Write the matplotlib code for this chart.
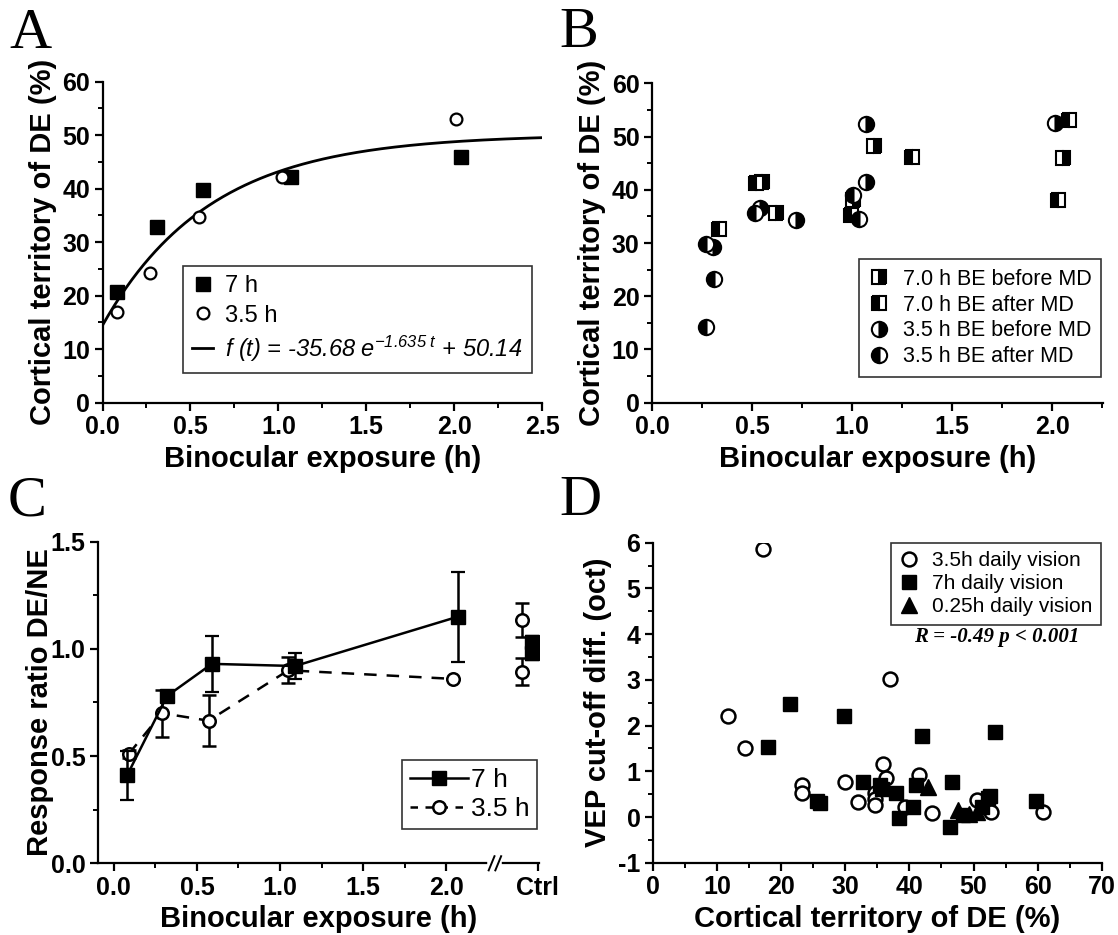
import matplotlib
matplotlib.use('Agg')
import matplotlib.pyplot as plt
import numpy as np
from matplotlib.ticker import MultipleLocator, FormatStrFormatter, FixedLocator
from matplotlib.lines import Line2D

# ---- panel A: cortical territory vs binocular exposure
a_x_7h = [0.08, 0.31, 0.57, 1.07, 2.04]
a_y_7h = [20.6, 32.9, 39.8, 42.1, 46.0]
a_x_35h = [0.08, 0.27, 0.55, 1.02, 2.01]
a_y_35h = [17.0, 24.2, 34.8, 42.2, 53.0]
fit_amp, fit_rate, fit_off = -35.68, 1.635, 50.14

# ---- panel B: before / after MD
b_x_70_before = [0.548, 0.62, 1.004, 1.107, 2.054]
b_y_70_before = [41.5, 35.6, 38.1, 48.2, 46.0]
b_x_70_after = [0.334, 0.518, 0.995, 1.30, 2.084, 2.03]
b_y_70_after = [32.7, 41.3, 35.3, 46.2, 53.1, 38.1]
b_x_35_before = [0.304, 0.539, 0.721, 1.071, 1.071, 2.013]
b_y_35_before = [29.3, 36.5, 34.4, 52.3, 41.5, 52.6]
b_x_35_after = [0.271, 0.307, 0.271, 0.512, 1.004, 1.036]
b_y_35_after = [29.9, 23.2, 14.3, 35.6, 39.0, 34.6]

# ---- panel C: response ratio DE/NE
c_x_7h = [0.08, 0.32, 0.59, 1.09, 2.07]
c_y_7h = [0.41, 0.78, 0.93, 0.92, 1.15]
c_e_7h = [0.115, 0.025, 0.13, 0.06, 0.21]
c_x_35h = [0.09, 0.29, 0.57, 1.05, 2.04]
c_y_35h = [0.51, 0.70, 0.665, 0.90, 0.86]
c_e_35h = [0.02, 0.11, 0.12, 0.06, 0.0]
ctrl_x_7h = [2.515, 2.515]
ctrl_y_7h = [1.03, 0.98]
ctrl_e_7h = [0.03, 0.03]
ctrl_x_35h = [2.455, 2.455]
ctrl_y_35h = [1.135, 0.894]
ctrl_e_35h = [0.08, 0.062]
c_ticks = [0.0, 0.5, 1.0, 1.5, 2.0, 2.55]
c_ticklabels = ['0.0', '0.5', '1.0', '1.5', '2.0', 'Ctrl']

# ---- panel D: VEP cut-off difference vs cortical territory
d_x_35h = [17.1, 11.7, 14.4, 36.9, 23.3, 23.3, 30.0, 32.0, 35.9, 36.3,
           34.6, 34.6, 34.6, 39.3, 41.5, 43.5, 50.5, 52.8, 60.8]
d_y_35h = [5.86, 2.22, 1.52, 3.02, 0.69, 0.52, 0.77, 0.33, 1.17, 0.85,
           0.52, 0.39, 0.26, 0.23, 0.92, 0.08, 0.37, 0.12, 0.12]
d_x_7h = [17.98, 21.4, 29.8, 42.0, 53.4, 25.6, 26.1, 32.8, 35.4, 35.8,
          37.9, 38.4, 40.6, 41.1, 46.6, 46.4, 48.4, 51.3, 52.2, 52.6, 59.8]
d_y_7h = [1.54, 2.47, 2.21, 1.77, 1.87, 0.36, 0.31, 0.77, 0.70, 0.62,
          0.52, -0.03, 0.23, 0.70, 0.77, -0.21, 0.05, 0.23, 0.42, 0.46, 0.34]
d_x_025h = [42.9, 47.5, 49.3, 50.6]
d_y_025h = [0.66, 0.16, 0.06, 0.12]

plt.rcParams['font.family'] = ['Liberation Sans', 'DejaVu Sans']
plt.rcParams['mathtext.fontset'] = 'custom'
plt.rcParams['mathtext.rm'] = 'Liberation Sans:italic'
plt.rcParams['mathtext.it'] = 'Liberation Sans:italic'
plt.rcParams['axes.linewidth'] = 1.6
plt.rcParams['axes.unicode_minus'] = False

fig = plt.figure(figsize=(11.18, 9.35), dpi=100)
axA = fig.add_axes([0.0917, 0.5693, 0.3932, 0.3433])
axB = fig.add_axes([0.5833, 0.5693, 0.4032, 0.3416])
axC = fig.add_axes([0.0878, 0.0767, 0.3945, 0.3440])
axD = fig.add_axes([0.5840, 0.0773, 0.4015, 0.3422])

TICK_FS = 18
LABEL_FS = 21


def style_axes(ax):
    for s in ['top', 'right']:
        ax.spines[s].set_visible(False)
    ax.tick_params(which='major', direction='out', length=6, width=1.6,
                   labelsize=TICK_FS, pad=3)
    ax.tick_params(which='minor', direction='out', length=3.5, width=1.4)
    for lab in ax.get_xticklabels() + ax.get_yticklabels():
        lab.set_fontweight('bold')


# ---- A
t = np.linspace(0, 2.5, 300)
axA.plot(t, fit_amp * np.exp(-fit_rate * t) + fit_off, color='black', lw=2,
         label='f (t) = -35.68 e$^{-1.635\\ t}$ + 50.14', zorder=2)
axA.plot(a_x_7h, a_y_7h, 's', color='black', ms=10, label='7 h', zorder=3)
axA.plot(a_x_35h, a_y_35h, 'o', mfc='white', mec='black', mew=1.6, ms=8.5,
         label='3.5 h', zorder=3)
axA.set_xlim(0, 2.5)
axA.set_ylim(0, 60)
axA.xaxis.set_major_locator(MultipleLocator(0.5))
axA.xaxis.set_minor_locator(MultipleLocator(0.25))
axA.yaxis.set_major_locator(MultipleLocator(10))
axA.yaxis.set_minor_locator(MultipleLocator(5))
axA.xaxis.set_major_formatter(FormatStrFormatter('%.1f'))
axA.set_xlabel('Binocular exposure (h)', fontsize=LABEL_FS, fontweight='bold')
axA.set_ylabel('Cortical territory of DE (%)', fontsize=LABEL_FS, fontweight='bold')
style_axes(axA)
h, l = axA.get_legend_handles_labels()
legA = axA.legend([h[1], h[2], h[0]], [l[1], l[2], l[0]], loc='lower right',
                  bbox_to_anchor=(0.977, 0.0916), borderaxespad=0, fontsize=17,
                  frameon=True, fancybox=False, edgecolor='black',
                  handlelength=0.9, handletextpad=0.5, labelspacing=0.3,
                  borderpad=0.4)
legA.get_frame().set_linewidth(1.2)
legA.get_texts()[2].set_style('italic')

# ---- B
mk = dict(ls='none', mec='black', mfc='black', markerfacecoloralt='white', mew=1.5)
axB.plot(b_x_70_before, b_y_70_before, 's', ms=10, fillstyle='right',
         label='7.0 h BE before MD', **mk)
axB.plot(b_x_70_after, b_y_70_after, 's', ms=10, fillstyle='left',
         label='7.0 h BE after MD', **mk)
axB.plot(b_x_35_before, b_y_35_before, 'o', ms=11, fillstyle='right',
         label='3.5 h BE before MD', **mk)
axB.plot(b_x_35_after, b_y_35_after, 'o', ms=11, fillstyle='left',
         label='3.5 h BE after MD', **mk)
axB.set_xlim(0, 2.254)
axB.set_ylim(0, 60)
axB.xaxis.set_major_locator(MultipleLocator(0.5))
axB.xaxis.set_minor_locator(MultipleLocator(0.25))
axB.yaxis.set_major_locator(MultipleLocator(10))
axB.yaxis.set_minor_locator(MultipleLocator(5))
axB.xaxis.set_major_formatter(FormatStrFormatter('%.1f'))
axB.set_xlabel('Binocular exposure (h)', fontsize=LABEL_FS, fontweight='bold')
axB.set_ylabel('Cortical territory of DE (%)', fontsize=LABEL_FS, fontweight='bold')
style_axes(axB)
legB = axB.legend(loc='lower right', bbox_to_anchor=(0.996, 0.081),
                  borderaxespad=0, fontsize=15.5, frameon=True, fancybox=False,
                  edgecolor='black', handlelength=1.0, handletextpad=0.6,
                  labelspacing=0.22, borderpad=0.45)
legB.get_frame().set_linewidth(1.2)

# ---- C
eb = dict(color='black', capsize=5, capthick=1.6, elinewidth=1.8)
axC.errorbar(c_x_35h, c_y_35h, yerr=c_e_35h, fmt='o', ls='--', lw=1.8,
             mfc='white', mec='black', mew=1.8, ms=9, dashes=(5, 4), zorder=3, **eb)
axC.errorbar(c_x_7h, c_y_7h, yerr=c_e_7h, fmt='s', ls='-', lw=1.8,
             mfc='black', mec='black', ms=10, zorder=4, **eb)
axC.errorbar(ctrl_x_35h, ctrl_y_35h, yerr=ctrl_e_35h, fmt='o', ls='none',
             mfc='white', mec='black', mew=1.8, ms=9, zorder=3, **eb)
axC.errorbar(ctrl_x_7h, ctrl_y_7h, yerr=ctrl_e_7h, fmt='s', ls='none',
             mfc='black', mec='black', ms=10, zorder=4, **eb)
axC.set_xlim(-0.094, 2.559)
axC.set_ylim(0, 1.5)
axC.set_xticks(c_ticks)
axC.set_xticklabels(c_ticklabels)
axC.xaxis.set_minor_locator(FixedLocator([0.25, 0.75, 1.25, 1.75]))
axC.yaxis.set_major_locator(MultipleLocator(0.5))
axC.yaxis.set_minor_locator(MultipleLocator(0.25))
axC.yaxis.set_major_formatter(FormatStrFormatter('%.1f'))
axC.set_xlabel('Binocular exposure (h)', fontsize=LABEL_FS, fontweight='bold')
axC.set_ylabel('Response ratio DE/NE', fontsize=LABEL_FS, fontweight='bold',
               labelpad=-2)
style_axes(axC)
# axis break marks
brk = axC.get_xaxis_transform()
axC.plot([2.265, 2.315], [0.0, 0.0], color='white', lw=4, transform=brk,
         clip_on=False, zorder=5)
for bx in (2.255, 2.295):
    axC.plot([bx, bx + 0.035], [-0.022, 0.022], color='black', lw=1.4,
             transform=brk, clip_on=False, zorder=6)
hC = [Line2D([], [], color='black', lw=1.8, marker='s', ms=10),
      Line2D([], [], color='black', lw=1.8, ls='--', dashes=(3, 3), marker='o',
             mfc='white', mew=1.8, ms=9)]
legC = axC.legend(hC, ['7 h', '3.5 h'], loc='lower right',
                  bbox_to_anchor=(0.996, 0.106), borderaxespad=0, fontsize=19,
                  frameon=True, fancybox=False, edgecolor='black',
                  handlelength=2.2, handletextpad=0.1, labelspacing=0.2,
                  borderpad=0.3)
legC.get_frame().set_linewidth(1.2)

# ---- D
axD.plot(d_x_35h, d_y_35h, 'o', ls='none', mfc='white', mec='black', mew=1.8,
         ms=10, label='3.5h daily vision')
axD.plot(d_x_7h, d_y_7h, 's', ls='none', color='black', ms=10,
         label='7h daily vision')
axD.plot(d_x_025h, d_y_025h, '^', ls='none', color='black', ms=11,
         label='0.25h daily vision')
axD.set_xlim(0, 70)
axD.set_ylim(-1, 6)
axD.xaxis.set_major_locator(MultipleLocator(10))
axD.xaxis.set_minor_locator(MultipleLocator(5))
axD.yaxis.set_major_locator(MultipleLocator(1))
axD.yaxis.set_minor_locator(MultipleLocator(0.5))
axD.set_xlabel('Cortical territory of DE (%)', fontsize=LABEL_FS, fontweight='bold')
axD.set_ylabel('VEP cut-off diff. (oct)', fontsize=LABEL_FS, fontweight='bold')
style_axes(axD)
legD = axD.legend(loc='upper right', bbox_to_anchor=(0.998, 1.0),
                  borderaxespad=0, fontsize=15, frameon=True, fancybox=False,
                  edgecolor='black', handlelength=1.0, handletextpad=0.6,
                  labelspacing=0.2, borderpad=0.4)
legD.get_frame().set_linewidth(1.2)
axD.text(53.6, 3.94, 'R = -0.49 p < 0.001', ha='center', va='center',
         fontsize=15, fontweight='bold', style='italic',
         family=['Liberation Serif', 'DejaVu Serif'])

# ---- panel letters
for lx, ly, letter in [(0.008, 0.9483, 'A'), (0.500, 0.9497, 'B'),
                       (0.007, 0.449, 'C'), (0.500, 0.449, 'D')]:
    fig.text(lx, ly, letter, fontsize=42, va='baseline', ha='left',
             family=['Liberation Serif', 'DejaVu Serif'])

fig.savefig('out.png', dpi=100)
